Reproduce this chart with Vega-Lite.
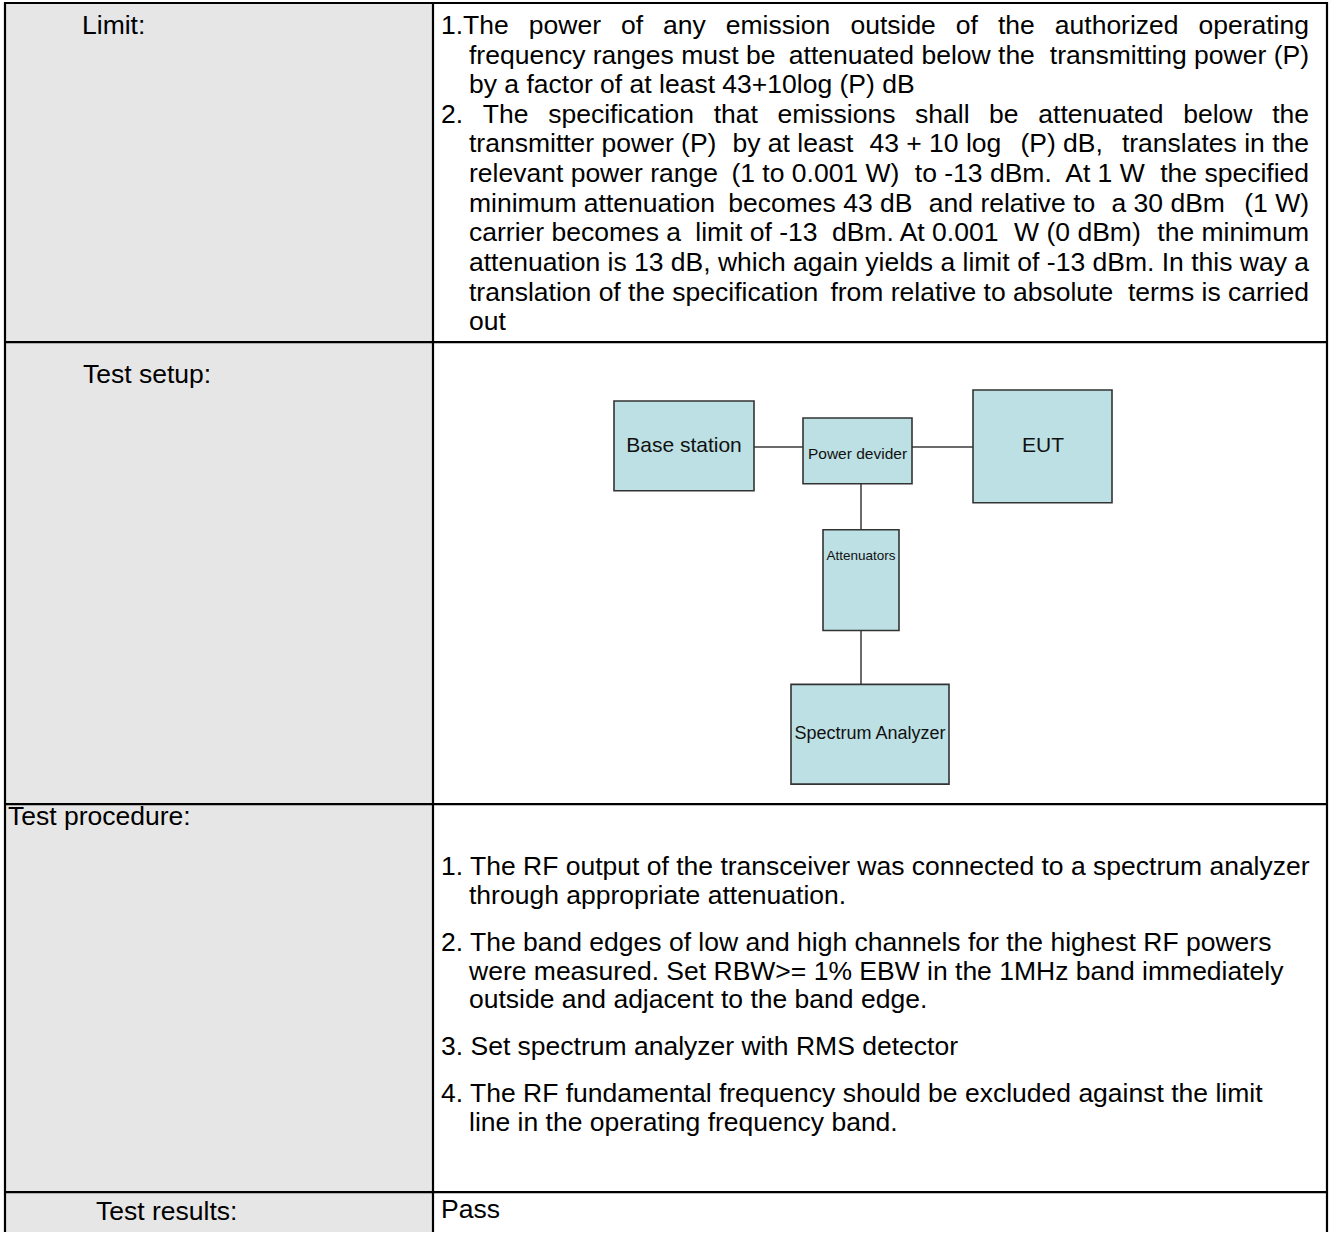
{
  "$schema": "https://vega.github.io/schema/vega-lite/v6.json",
  "width": 1330,
  "height": 1234,
  "padding": 0,
  "autosize": {"type": "fit", "contains": "padding"},
  "background": "white",
  "config": {"view": {"stroke": null}},
  "datasets": {
    "fills": [
      {"name": "label column", "x": 5, "x2": 433, "y": 1, "y2": 1234}
    ],
    "grid": [
      {"name": "top", "x": 4, "x2": 1328, "y": 2, "y2": 2},
      {"name": "left", "x": 5, "x2": 5, "y": 1, "y2": 1234},
      {"name": "right", "x": 1327, "x2": 1327, "y": 1, "y2": 1234},
      {"name": "divider", "x": 433, "x2": 433, "y": 1, "y2": 1234},
      {"name": "row1", "x": 4, "x2": 1328, "y": 342, "y2": 342},
      {"name": "row2", "x": 4, "x2": 1328, "y": 805, "y2": 805},
      {"name": "row3", "x": 4, "x2": 1328, "y": 1194, "y2": 1194}
    ],
    "boxes": [
      {"box": "Base station", "x": 614, "x2": 754, "y": 401, "y2": 491, "tx": 684, "ty": 446},
      {"box": "Power devider", "x": 803, "x2": 912, "y": 418, "y2": 484, "tx": 857.5, "ty": 454},
      {"box": "EUT", "x": 973, "x2": 1112, "y": 390, "y2": 503, "tx": 1043, "ty": 446},
      {"box": "Attenuators", "x": 823, "x2": 899, "y": 530, "y2": 631, "tx": 861, "ty": 556},
      {"box": "Spectrum Analyzer", "x": 791, "x2": 949, "y": 685, "y2": 785, "tx": 870, "ty": 735}
    ],
    "links": [
      {"x": 754, "x2": 803, "y": 447, "y2": 447},
      {"x": 912, "x2": 973, "y": 447, "y2": 447},
      {"x": 861, "x2": 861, "y": 484, "y2": 530},
      {"x": 861, "x2": 861, "y": 631, "y2": 685}
    ],
    "labels": [
      {"t": "Limit:", "x": 82, "y": 25},
      {"t": "Test setup:", "x": 83, "y": 375},
      {"t": "Test procedure:", "x": 8, "y": 818},
      {"t": "Test results:", "x": 96, "y": 1214}
    ],
    "body": [
      {"t": "1.The", "x": 441, "y": 25, "a": "l"},
      {"t": "power", "x": 528.8, "y": 25, "a": "l"},
      {"t": "of", "x": 620.9, "y": 25, "a": "l"},
      {"t": "any", "x": 663, "y": 25, "a": "l"},
      {"t": "emission", "x": 725.7, "y": 25, "a": "l"},
      {"t": "outside", "x": 850.4, "y": 25, "a": "l"},
      {"t": "of", "x": 955.8, "y": 25, "a": "l"},
      {"t": "the", "x": 997.9, "y": 25, "a": "l"},
      {"t": "authorized", "x": 1054.8, "y": 25, "a": "l"},
      {"t": "operating", "x": 1309, "y": 25, "a": "r"},
      {"t": "frequency ranges must be", "x": 469, "y": 54.7, "a": "l"},
      {"t": "attenuated below the", "x": 788.8, "y": 54.7, "a": "l"},
      {"t": "transmitting power (P)", "x": 1309, "y": 54.7, "a": "r"},
      {"t": "by a factor of at least 43+10log (P) dB", "x": 469, "y": 84.4, "a": "l"},
      {"t": "2.", "x": 441, "y": 114.1, "a": "l"},
      {"t": "The", "x": 482.8, "y": 114.1, "a": "l"},
      {"t": "specification", "x": 548.2, "y": 114.1, "a": "l"},
      {"t": "that", "x": 713.7, "y": 114.1, "a": "l"},
      {"t": "emissions", "x": 777.6, "y": 114.1, "a": "l"},
      {"t": "shall", "x": 915.1, "y": 114.1, "a": "l"},
      {"t": "be", "x": 989.1, "y": 114.1, "a": "l"},
      {"t": "attenuated", "x": 1038.3, "y": 114.1, "a": "l"},
      {"t": "below", "x": 1183.2, "y": 114.1, "a": "l"},
      {"t": "the", "x": 1309, "y": 114.1, "a": "r"},
      {"t": "transmitter power (P)", "x": 469, "y": 143.8, "a": "l"},
      {"t": "by at least", "x": 732.5, "y": 143.8, "a": "l"},
      {"t": "43 + 10 log", "x": 869.4, "y": 143.8, "a": "l"},
      {"t": "(P) dB,", "x": 1020.4, "y": 143.8, "a": "l"},
      {"t": "translates in the", "x": 1309, "y": 143.8, "a": "r"},
      {"t": "relevant power range", "x": 469, "y": 173.5, "a": "l"},
      {"t": "(1 to 0.001 W)", "x": 731.4, "y": 173.5, "a": "l"},
      {"t": "to -13 dBm.", "x": 914.8, "y": 173.5, "a": "l"},
      {"t": "At 1 W", "x": 1065.2, "y": 173.5, "a": "l"},
      {"t": "the specified", "x": 1309, "y": 173.5, "a": "r"},
      {"t": "minimum attenuation", "x": 469, "y": 203.2, "a": "l"},
      {"t": "becomes 43 dB", "x": 728.3, "y": 203.2, "a": "l"},
      {"t": "and relative to", "x": 928.8, "y": 203.2, "a": "l"},
      {"t": "a 30 dBm", "x": 1111.5, "y": 203.2, "a": "l"},
      {"t": "(1 W)", "x": 1309, "y": 203.2, "a": "r"},
      {"t": "carrier becomes a", "x": 469, "y": 232.9, "a": "l"},
      {"t": "limit of -13", "x": 695.3, "y": 232.9, "a": "l"},
      {"t": "dBm. At 0.001", "x": 831.9, "y": 232.9, "a": "l"},
      {"t": "W (0 dBm)", "x": 1014.1, "y": 232.9, "a": "l"},
      {"t": "the minimum", "x": 1309, "y": 232.9, "a": "r"},
      {"t": "attenuation is 13 dB, which again yields a limit", "x": 469, "y": 262.6, "a": "l"},
      {"t": "of -13 dBm. In this way a", "x": 1309, "y": 262.6, "a": "r"},
      {"t": "translation of the specification", "x": 469, "y": 292.3, "a": "l"},
      {"t": "from relative to absolute", "x": 830.4, "y": 292.3, "a": "l"},
      {"t": "terms is carried", "x": 1309, "y": 292.3, "a": "r"},
      {"t": "out", "x": 469, "y": 322, "a": "l"},
      {"t": "1. The RF output of the transceiver was connected to a spectrum analyzer", "x": 441, "y": 868, "a": "l"},
      {"t": "through appropriate attenuation.", "x": 469, "y": 897, "a": "l"},
      {"t": "2. The band edges of low and high channels for the highest RF powers", "x": 441, "y": 944, "a": "l"},
      {"t": "were measured. Set RBW>= 1% EBW in the 1MHz band immediately", "x": 469, "y": 973, "a": "l"},
      {"t": "outside and adjacent to the band edge.", "x": 469, "y": 1001, "a": "l"},
      {"t": "3. Set spectrum analyzer with RMS detector", "x": 441, "y": 1049, "a": "l"},
      {"t": "4. The RF fundamental frequency should be excluded against the limit", "x": 441, "y": 1096, "a": "l"},
      {"t": "line in the operating frequency band.", "x": 469, "y": 1125, "a": "l"},
      {"t": "Pass", "x": 441, "y": 1212, "a": "l"}
    ]
  },
  "encoding": {
    "x": {"field": "x", "type": "quantitative", "scale": {"domain": [0, 1330], "nice": false, "zero": false}, "axis": null},
    "y": {"field": "y", "type": "quantitative", "scale": {"domain": [0, 1234], "nice": false, "zero": false, "reverse": true}, "axis": null}
  },
  "layer": [
    {
      "data": {"name": "fills"},
      "mark": {"type": "rect", "color": "#e6e6e6"},
      "encoding": {"x2": {"field": "x2"}, "y2": {"field": "y2"}}
    },
    {
      "data": {"name": "grid"},
      "mark": {"type": "rule", "color": "#000000", "strokeWidth": 2.2},
      "encoding": {"x2": {"field": "x2"}, "y2": {"field": "y2"}}
    },
    {
      "data": {"name": "links"},
      "mark": {"type": "rule", "color": "#3a3a3a", "strokeWidth": 1.5},
      "encoding": {"x2": {"field": "x2"}, "y2": {"field": "y2"}}
    },
    {
      "data": {"name": "boxes"},
      "mark": {"type": "rect", "fill": "#bce0e3", "stroke": "#333333", "strokeWidth": 1.6},
      "encoding": {"x2": {"field": "x2"}, "y2": {"field": "y2"}}
    },
    {
      "data": {"name": "boxes"},
      "mark": {"type": "text", "align": "center", "baseline": "middle", "font": "Liberation Sans", "color": "#111111"},
      "encoding": {
        "x": {"field": "tx", "type": "quantitative"},
        "y": {"field": "ty", "type": "quantitative"},
        "text": {"field": "box"},
        "size": {"field": "box", "type": "nominal", "legend": null,
          "scale": {"type": "ordinal", "domain": ["Base station", "Power devider", "EUT", "Attenuators", "Spectrum Analyzer"], "range": [21, 15.5, 21, 13.5, 18]}}
      }
    },
    {
      "data": {"name": "labels"},
      "mark": {"type": "text", "align": "left", "baseline": "middle", "font": "Liberation Sans", "fontSize": 26.5, "color": "#000000"},
      "encoding": {"text": {"field": "t"}}
    },
    {
      "data": {"name": "body"},
      "transform": [{"filter": "datum.a === 'l'"}],
      "mark": {"type": "text", "align": "left", "baseline": "middle", "font": "Liberation Sans", "fontSize": 26.5, "color": "#000000"},
      "encoding": {"text": {"field": "t"}}
    },
    {
      "data": {"name": "body"},
      "transform": [{"filter": "datum.a === 'r'"}],
      "mark": {"type": "text", "align": "right", "baseline": "middle", "font": "Liberation Sans", "fontSize": 26.5, "color": "#000000"},
      "encoding": {"text": {"field": "t"}}
    }
  ]
}
